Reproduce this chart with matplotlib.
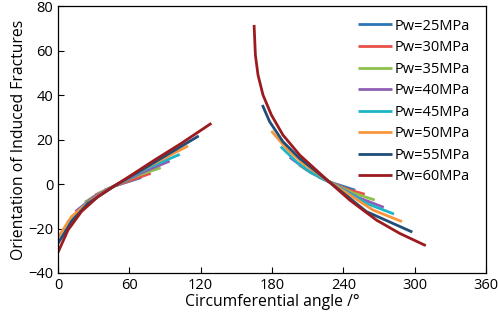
import matplotlib
matplotlib.use("Agg")
import matplotlib.pyplot as plt

plt.rcParams['font.family'] = ['Open Sans', 'DejaVu Sans']

labels = ['Pw=25MPa', 'Pw=30MPa', 'Pw=35MPa', 'Pw=40MPa',
          'Pw=45MPa', 'Pw=50MPa', 'Pw=55MPa', 'Pw=60MPa']
colors = ['#2E75B6', '#E8504A', '#8DC04B', '#8E5FB5',
          '#1DB4C8', '#F7963C', '#1F4E79', '#9B1B1F']

# left branch (angle, orientation)
left_x = [
    [39, 47, 70],
    [31.4, 47, 78],
    [22.5, 35, 47, 65, 86.4],
    [14.6, 30, 47, 70, 93.9],
    [7.9, 22.5, 47, 75.7, 102.4],
    [0, 11.2, 28.1, 47, 72.9, 109.3],
    [0, 11.2, 25.2, 47, 67.3, 89.7, 118.3],
    [0, 8.4, 19.7, 33.6, 47, 61.7, 81.3, 103.8, 129],
]
left_y = [
    [-2.8, -1, 2.9],
    [-4.9, -1, 4.8],
    [-8.2, -4, -1, 3.5, 7.3],
    [-12.4, -5.8, -1, 5, 10.3],
    [-17.2, -9.4, -1, 7.3, 13.3],
    [-24.1, -14.7, -7.2, -1, 7, 17.1],
    [-26.7, -16.9, -8.7, -1, 5.3, 12.5, 21.6],
    [-30.7, -20.7, -12.4, -5.7, -1, 4, 10.8, 18.3, 27.3],
]

# right branch
right_x = [
    [219, 228, 250],
    [211.7, 228, 244, 258],
    [202.7, 215, 228, 248, 266.4],
    [194.9, 210, 228, 252, 274],
    [187.3, 200.5, 213, 228, 259.4, 282.6],
    [179.5, 192.1, 206, 228, 265, 289.3],
    [171.9, 178, 189.2, 203.3, 228, 259.4, 298],
    [164.9, 166, 168.2, 172.4, 179.5, 189.2, 203.3, 228, 245.3, 267.8, 287.4, 309.3],
]
right_y = [
    [3.2, 1, -2.8],
    [5.5, 1, -2.5, -4.6],
    [8.5, 4.5, 1, -4, -7.2],
    [12, 6, 1, -6, -10.5],
    [16.8, 10, 5, 1, -8.7, -13.5],
    [23.8, 16, 9.3, 1, -11.7, -16.9],
    [35.5, 28, 19, 11.5, 1, -12.4, -21.6],
    [71.5, 58, 49, 40, 31, 22, 13, 1, -7.2, -16.2, -22.2, -27.7],
]

fig = plt.figure(figsize=(4.98, 3.25), dpi=100)
ax = fig.add_axes([0.1165, 0.16, 0.8595, 0.8215])

for i in range(len(labels)):
    ax.plot(left_x[i], left_y[i], color=colors[i], lw=2.0, label=labels[i],
            solid_capstyle='butt', solid_joinstyle='round')
    ax.plot(right_x[i], right_y[i], color=colors[i], lw=2.0,
            solid_capstyle='butt', solid_joinstyle='round')

ax.set_xlim(0, 360)
ax.set_ylim(-40, 80)
ax.set_xticks(range(0, 361, 60))
ax.set_yticks(range(-40, 81, 20))
ax.tick_params(direction='in', length=4, labelsize=10.5, width=0.8)
for s in ax.spines.values():
    s.set_linewidth(0.9)
ax.set_xlabel('Circumferential angle /°', fontsize=11.3, labelpad=1)
ax.set_ylabel('Orientation of Induced Fractures', fontsize=11.3, labelpad=1)

ax.legend(loc='upper right', bbox_to_anchor=(0.944, 0.943),
          bbox_transform=fig.transFigure, frameon=False, fontsize=10.5,
          handlelength=2.3, handletextpad=0.2, labelspacing=0.45,
          borderpad=0, borderaxespad=0)

fig.savefig('out.png', dpi=100)
